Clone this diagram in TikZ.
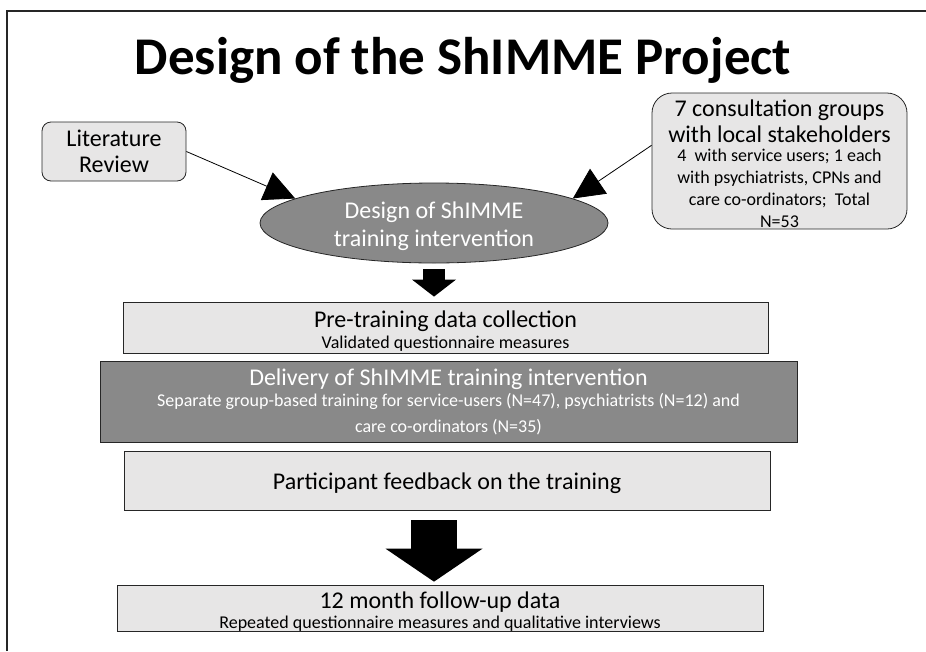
\documentclass[tikz,border=0pt]{standalone}
\usepackage{fontspec}
\setmainfont{Carlito}
\usetikzlibrary{arrows.meta,shapes.geometric}

\definecolor{lightbox}{RGB}{231,230,230}
\definecolor{darkbox}{RGB}{137,137,137}

\newcommand{\bigtxt}{\fontsize{24}{26}\selectfont}
\newcommand{\smalltxt}{\fontsize{18}{21}\selectfont}
\newcommand{\topstrut}{\rule{0pt}{23pt}}

\tikzset{
    lightnode/.style={draw=black!85, fill=lightbox, line width=0.8pt, align=center, inner sep=0pt, font=\bigtxt},
    darknode/.style={draw=black!85, fill=darkbox, text=white, line width=0.8pt, align=center, inner sep=0pt, font=\bigtxt},
    thinarrow/.style={black, line width=0.8pt, -{Triangle[length=31pt, width=30pt]}},
    smallblock/.style={black, line width=22pt, -{Triangle[length=17pt, width=44pt, line width=0pt]}, shorten <=6pt, shorten >=5pt},
    bigblock/.style={black, line width=46pt, -{Triangle[length=33pt, width=97pt, line width=0pt]}, shorten <=10pt, shorten >=3pt}
}

\begin{document}
\begin{tikzpicture}[x=1pt, y=-1pt]
        \useasboundingbox (0,0) rectangle (926,651);
        \draw [black!85, line width=1.5pt] (7,651) -- (7,11) -- (926,11);

        \node [font=\fontsize{53}{60}\selectfont\bfseries] (title) at (463,60) {Design of the ShIMME Project};

        \node [lightnode, rounded corners=9pt, minimum width=144pt, minimum height=59pt] (lit) at (114,151.5) {Literature\\Review};
        \node [lightnode, rounded corners=20pt, minimum width=255pt, minimum height=136pt] (consult) at (779.5,161) {\topstrut 7 consultation groups\\with local stakeholders\\[-7pt] \smalltxt 4\ \ with service users; 1 each\\[-4pt] \smalltxt with psychiatrists, CPNs and\\[-4pt] \smalltxt care co-ordinators;\ \ Total\\[-4pt] \smalltxt N=53};
        \node [darknode, ellipse, minimum width=348pt, minimum height=80pt] (design) at (434,223) {\topstrut Design of ShIMME\\[2pt]training intervention};

        \node [lightnode, minimum width=645pt, minimum height=51pt] (pre) at (445.5,327.5) {\topstrut Pre-training data collection\\[-5pt] \smalltxt Validated questionnaire measures};
        \node [darknode, minimum width=697pt, minimum height=81pt] (deliv) at (448.5,401.5) {Delivery of ShIMME training intervention\\[-5pt] \smalltxt Separate group-based training for service-users (N=47), psychiatrists (N=12) and\\ \smalltxt care co-ordinators (N=35)};
        \node [lightnode, minimum width=646pt, minimum height=59pt] (feedback) at (447,480.5) {\topstrut Participant feedback on the training};
        \node [lightnode, minimum width=646pt, minimum height=40pt] (followup) at (440,608) {\topstrut 12 month follow-up data\\[-6pt] \smalltxt Repeated questionnaire measures and qualitative interviews};

        \draw [thinarrow] (lit.east) to (design.170);
        \draw [thinarrow] (consult.173) to (design.10);
        \draw [smallblock] (design.south) to (design.south |- pre.north);
        \draw [bigblock] (design.south |- feedback.south) to (design.south |- followup.north);
\end{tikzpicture}
\end{document}
